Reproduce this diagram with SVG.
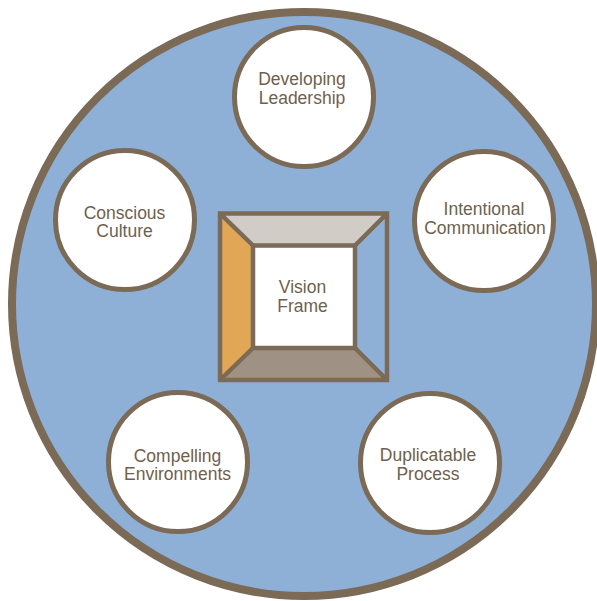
<svg xmlns="http://www.w3.org/2000/svg" width="597" height="601" viewBox="0 0 597 601">
<style>
.node{fill:#ffffff;stroke:#7b6a55;stroke-width:5}
.lbl{font-family:"Liberation Sans",Arial,sans-serif;font-size:17.5px;fill:#6f5f4c;text-anchor:middle}
.ln{stroke:#7b6a55;stroke-width:4.5;fill:none}
.win{stroke:#7b6a55;stroke-width:4.5;fill:#ffffff}
</style>
<rect width="597" height="601" fill="#ffffff"/>
<g id="outer">
<circle cx="304" cy="304" r="292" fill="#8fb0d6" stroke="#7b6a55" stroke-width="8"/>
</g>
<g id="connectors"></g>
<g id="vision-frame">
<polygon points="220,213.5 387,213.5 355,245.5 253,245.5" fill="#d1ccc6"/>
<polygon points="220,213.5 253,245.5 253,348 220,380" fill="#e2a756"/>
<polygon points="387,213.5 387,380 355,348 355,245.5" fill="#8fb0d6"/>
<polygon points="220,380 253,348 355,348 387,380" fill="#9f9184"/>
<line class="ln" x1="220" y1="213.5" x2="253" y2="245.5"/>
<line class="ln" x1="387" y1="213.5" x2="355" y2="245.5"/>
<line class="ln" x1="220" y1="380" x2="253" y2="348"/>
<line class="ln" x1="387" y1="380" x2="355" y2="348"/>
<rect class="ln" x="220" y="213.5" width="167" height="166.5"/>
<rect class="win" x="253" y="245.5" width="102" height="102.5"/>
<text class="lbl" x="302.5" y="293">Vision</text>
<text class="lbl" x="302.5" y="311.5">Frame</text>
</g>
<g id="developing-leadership">
<circle class="node" cx="304" cy="97" r="69.5"/>
<text class="lbl" x="302" y="85">Developing</text>
<text class="lbl" x="302" y="103.5">Leadership</text>
</g>
<g id="intentional-communication">
<circle class="node" cx="484" cy="221" r="69.5"/>
<text class="lbl" x="484" y="215">Intentional</text>
<text class="lbl" x="485" y="234">Communication</text>
</g>
<g id="conscious-culture">
<circle class="node" cx="125" cy="220" r="69.5"/>
<text class="lbl" x="124.5" y="218.5">Conscious</text>
<text class="lbl" x="124.5" y="237">Culture</text>
</g>
<g id="compelling-environments">
<circle class="node" cx="178" cy="462" r="69.5"/>
<text class="lbl" x="177.5" y="461.5">Compelling</text>
<text class="lbl" x="177.5" y="480">Environments</text>
</g>
<g id="duplicatable-process">
<circle class="node" cx="430" cy="463" r="69.5"/>
<text class="lbl" x="428" y="461">Duplicatable</text>
<text class="lbl" x="428" y="479.5">Process</text>
</g>
</svg>
